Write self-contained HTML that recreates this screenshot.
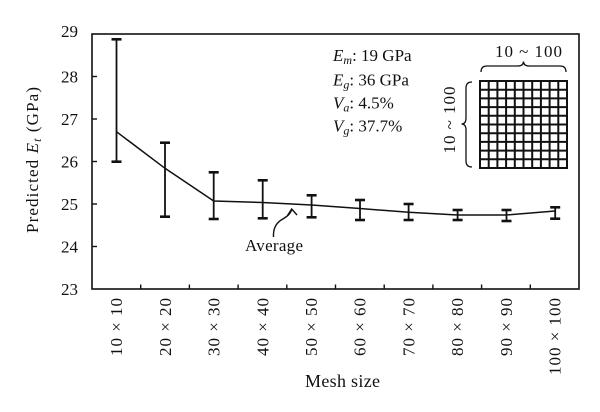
<!DOCTYPE html>
<html>
<head>
<meta charset="utf-8">
<style>
  html, body { margin: 0; padding: 0; background: #ffffff; }
  svg { display: block; }
  text { font-family: "Liberation Serif", "DejaVu Serif", serif; fill: #111; }
</style>
</head>
<body>
<svg width="600" height="412" viewBox="0 0 600 412" xmlns="http://www.w3.org/2000/svg">
  <rect x="0" y="0" width="600" height="412" fill="#fff"/>

  <!-- plot frame -->
  <rect x="92" y="34" width="487" height="255" fill="none" stroke="#111" stroke-width="1.6"/>

  <!-- y ticks -->
  <g stroke="#111" stroke-width="1.4">
    <line x1="92" y1="76.5" x2="97" y2="76.5"/>
    <line x1="92" y1="119" x2="97" y2="119"/>
    <line x1="92" y1="161.5" x2="97" y2="161.5"/>
    <line x1="92" y1="204" x2="97" y2="204"/>
    <line x1="92" y1="246.5" x2="97" y2="246.5"/>
  </g>
  <!-- x ticks -->
  <g stroke="#111" stroke-width="1.4">
    <line x1="140.7" y1="289" x2="140.7" y2="284.5"/>
    <line x1="189.4" y1="289" x2="189.4" y2="284.5"/>
    <line x1="238.1" y1="289" x2="238.1" y2="284.5"/>
    <line x1="286.8" y1="289" x2="286.8" y2="284.5"/>
    <line x1="335.5" y1="289" x2="335.5" y2="284.5"/>
    <line x1="384.2" y1="289" x2="384.2" y2="284.5"/>
    <line x1="432.9" y1="289" x2="432.9" y2="284.5"/>
    <line x1="481.6" y1="289" x2="481.6" y2="284.5"/>
    <line x1="530.3" y1="289" x2="530.3" y2="284.5"/>
  </g>

  <!-- y tick labels -->
  <g font-size="17" text-anchor="end">
    <text x="78" y="37">29</text>
    <text x="78" y="82.5">28</text>
    <text x="78" y="125">27</text>
    <text x="78" y="167.5">26</text>
    <text x="78" y="210">25</text>
    <text x="78" y="252.5">24</text>
    <text x="78" y="295">23</text>
  </g>

  <!-- y axis title -->
  <text transform="translate(38,160) rotate(-90)" font-size="17" text-anchor="middle" textLength="146" lengthAdjust="spacing">Predicted <tspan font-style="italic">E</tspan><tspan font-style="italic" font-size="12" dy="3">t</tspan><tspan dy="-3"> (GPa)</tspan></text>

  <!-- x tick labels (rotated) -->
  <g font-size="17" text-anchor="end">
    <text transform="translate(122.2,298) rotate(-90)" textLength="58" lengthAdjust="spacing">10 × 10</text>
    <text transform="translate(170.9,298) rotate(-90)" textLength="58" lengthAdjust="spacing">20 × 20</text>
    <text transform="translate(219.6,298) rotate(-90)" textLength="58" lengthAdjust="spacing">30 × 30</text>
    <text transform="translate(268.3,298) rotate(-90)" textLength="58" lengthAdjust="spacing">40 × 40</text>
    <text transform="translate(317,298) rotate(-90)" textLength="58" lengthAdjust="spacing">50 × 50</text>
    <text transform="translate(365.7,298) rotate(-90)" textLength="58" lengthAdjust="spacing">60 × 60</text>
    <text transform="translate(414.4,298) rotate(-90)" textLength="58" lengthAdjust="spacing">70 × 70</text>
    <text transform="translate(463.1,298) rotate(-90)" textLength="58" lengthAdjust="spacing">80 × 80</text>
    <text transform="translate(511.8,298) rotate(-90)" textLength="58" lengthAdjust="spacing">90 × 90</text>
    <text transform="translate(560.5,298) rotate(-90)" textLength="77" lengthAdjust="spacing">100 × 100</text>
  </g>

  <!-- x axis title -->
  <text x="342.5" y="387" font-size="18" text-anchor="middle" textLength="75" lengthAdjust="spacing">Mesh size</text>

  <!-- average line -->
  <polyline fill="none" stroke="#111" stroke-width="1.5"
    points="116.5,131.7 165,168.3 213.7,201 262.5,202.5 311.5,205 360,208.5 408.6,212.3 457.5,215 506.3,215 555,211"/>

  <!-- error bars -->
  <g stroke="#111">
    <g stroke-width="1.8">
      <line x1="116.5" y1="39.3" x2="116.5" y2="161.7"/>
      <line x1="165" y1="142.7" x2="165" y2="216.7"/>
      <line x1="213.7" y1="172.3" x2="213.7" y2="219"/>
      <line x1="262.7" y1="180.3" x2="262.7" y2="218.3"/>
      <line x1="311.6" y1="195.3" x2="311.6" y2="217.3"/>
      <line x1="360" y1="200" x2="360" y2="220"/>
      <line x1="408.6" y1="204" x2="408.6" y2="220"/>
      <line x1="457.6" y1="210" x2="457.6" y2="220"/>
      <line x1="506.5" y1="210" x2="506.5" y2="221"/>
      <line x1="555.2" y1="207.3" x2="555.2" y2="218.7"/>
    </g>
    <g stroke-width="2.6">
      <line x1="111.5" y1="39.3" x2="121.5" y2="39.3"/>
      <line x1="111.5" y1="161.7" x2="121.5" y2="161.7"/>
      <line x1="160" y1="142.7" x2="170" y2="142.7"/>
      <line x1="160" y1="216.7" x2="170" y2="216.7"/>
      <line x1="208.7" y1="172.3" x2="218.7" y2="172.3"/>
      <line x1="208.7" y1="219" x2="218.7" y2="219"/>
      <line x1="257.7" y1="180.3" x2="267.7" y2="180.3"/>
      <line x1="257.7" y1="218.3" x2="267.7" y2="218.3"/>
      <line x1="306.6" y1="195.3" x2="316.6" y2="195.3"/>
      <line x1="306.6" y1="217.3" x2="316.6" y2="217.3"/>
      <line x1="355" y1="200" x2="365" y2="200"/>
      <line x1="355" y1="220" x2="365" y2="220"/>
      <line x1="403.6" y1="204" x2="413.6" y2="204"/>
      <line x1="403.6" y1="220" x2="413.6" y2="220"/>
      <line x1="452.6" y1="210" x2="462.6" y2="210"/>
      <line x1="452.6" y1="220" x2="462.6" y2="220"/>
      <line x1="501.5" y1="210" x2="511.5" y2="210"/>
      <line x1="501.5" y1="221" x2="511.5" y2="221"/>
      <line x1="550.2" y1="207.3" x2="560.2" y2="207.3"/>
      <line x1="550.2" y1="218.7" x2="560.2" y2="218.7"/>
    </g>
  </g>

  <!-- "Average" annotation -->
  <text x="245" y="251" font-size="17" textLength="58" lengthAdjust="spacing">Average</text>
  <path d="M273.5,237 C273,229 276,223 282,219.5 C287,216.5 290.5,214 291.7,209.5" fill="none" stroke="#111" stroke-width="1.4"/>
  <path d="M287.5,215.5 L291.7,209 L297,215" fill="none" stroke="#111" stroke-width="1.4"/>

  <!-- parameters text -->
  <g font-size="17">
    <text x="333" y="61"><tspan font-style="italic">E</tspan><tspan font-style="italic" font-size="12" dy="3">m</tspan><tspan dy="-3">: 19 GPa</tspan></text>
    <text x="333" y="85.5"><tspan font-style="italic">E</tspan><tspan font-style="italic" font-size="12" dy="3">g</tspan><tspan dy="-3">: 36 GPa</tspan></text>
    <text x="333" y="108.5"><tspan font-style="italic">V</tspan><tspan font-style="italic" font-size="12" dy="3">a</tspan><tspan dy="-3">: 4.5%</tspan></text>
    <text x="333" y="131.5"><tspan font-style="italic">V</tspan><tspan font-style="italic" font-size="12" dy="3">g</tspan><tspan dy="-3">: 37.7%</tspan></text>
  </g>

  <!-- mesh inset -->
  <text x="528.5" y="57" font-size="17" text-anchor="middle" textLength="67" lengthAdjust="spacing">10 ~ 100</text>
  <path d="M481,72 Q481,66 487,66 L517.5,66 Q523.5,66 523.5,61.5 Q523.5,66 529.5,66 L560,66 Q566,66 566,72" fill="none" stroke="#111" stroke-width="1.3"/>
  <text transform="translate(455,120) rotate(-90)" font-size="17" text-anchor="middle" textLength="67" lengthAdjust="spacing">10 ~ 100</text>
  <path d="M472,82 Q466,82 466,88 L466,118 Q466,124 461.5,124 Q466,124 466,130 L466,161 Q466,167 472,167" fill="none" stroke="#111" stroke-width="1.3"/>

  <g stroke="#111" stroke-width="2" fill="none">
    <rect x="480" y="81" width="87" height="87"/>
    <line x1="488.7" y1="81" x2="488.7" y2="168"/>
    <line x1="497.4" y1="81" x2="497.4" y2="168"/>
    <line x1="506.1" y1="81" x2="506.1" y2="168"/>
    <line x1="514.8" y1="81" x2="514.8" y2="168"/>
    <line x1="523.5" y1="81" x2="523.5" y2="168"/>
    <line x1="532.2" y1="81" x2="532.2" y2="168"/>
    <line x1="540.9" y1="81" x2="540.9" y2="168"/>
    <line x1="549.6" y1="81" x2="549.6" y2="168"/>
    <line x1="558.3" y1="81" x2="558.3" y2="168"/>
    <line x1="480" y1="89.7" x2="567" y2="89.7"/>
    <line x1="480" y1="98.4" x2="567" y2="98.4"/>
    <line x1="480" y1="107.1" x2="567" y2="107.1"/>
    <line x1="480" y1="115.8" x2="567" y2="115.8"/>
    <line x1="480" y1="124.5" x2="567" y2="124.5"/>
    <line x1="480" y1="133.2" x2="567" y2="133.2"/>
    <line x1="480" y1="141.9" x2="567" y2="141.9"/>
    <line x1="480" y1="150.6" x2="567" y2="150.6"/>
    <line x1="480" y1="159.3" x2="567" y2="159.3"/>
  </g>
</svg>
</body>
</html>
